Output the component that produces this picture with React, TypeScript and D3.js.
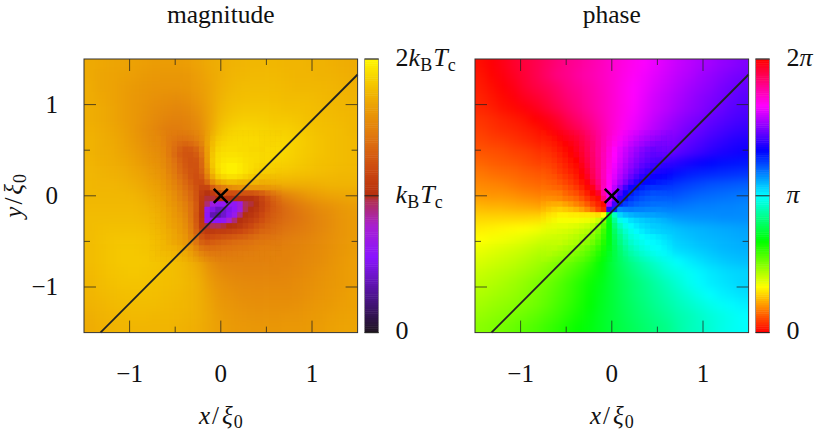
import React from "react";
import * as d3 from "d3";

// coarse grid: 25 x 25 cells over the whole panel, top row first
const magCoarse = [
  [170,169,168,167,166,165,164,164,164,165,167,170,172,174,175,176,176,176,175,175,174,174,173,172,171],
  [170,168,167,166,165,163,162,161,161,162,165,169,172,175,176,177,177,177,176,175,175,174,174,173,172],
  [171,168,167,165,163,161,160,160,160,161,164,168,173,176,178,178,178,178,177,176,176,176,175,174,173],
  [171,169,167,165,162,160,158,157,156,158,162,168,174,178,179,180,180,179,178,178,178,177,176,175,174],
  [172,170,168,165,162,159,156,154,152,154,159,167,176,180,182,182,182,181,180,180,179,178,177,176,175],
  [172,170,168,165,162,158,154,151,149,151,156,167,178,183,185,185,184,183,183,182,180,179,178,177,176],
  [173,171,169,166,162,157,152,147,146,149,153,168,182,187,189,188,187,186,186,184,182,180,179,178,176],
  [174,172,170,167,163,158,152,145,140,142,150,170,186,192,193,193,191,190,188,186,183,181,179,178,177],
  [174,172,171,168,165,160,154,146,136,132,146,172,190,196,197,196,194,191,188,185,183,181,179,178,177],
  [175,173,172,170,167,163,157,149,140,130,144,174,192,198,198,196,192,188,186,184,182,180,179,178,177],
  [175,174,173,172,169,166,160,153,145,132,135,168,186,192,192,188,184,182,181,180,179,178,177,176,176],
  [176,175,175,174,172,169,164,157,150,135,118,130,160,168,170,172,172,172,172,172,172,173,174,174,174],
  [176,176,176,176,175,172,168,163,155,140,118,105,105,115,120,125,135,142,150,156,162,165,167,168,169],
  [177,177,177,177,177,175,172,168,162,148,118,95,60,55,85,105,118,130,138,145,150,155,158,162,164],
  [178,178,178,178,178,177,175,172,168,155,125,90,50,60,95,110,122,132,138,142,147,152,156,160,163],
  [178,179,180,180,180,179,177,175,172,162,140,115,108,112,118,125,132,138,142,145,148,152,156,160,163],
  [178,180,181,182,182,181,180,178,175,168,155,138,132,133,135,138,142,145,147,149,151,154,157,160,163],
  [178,180,182,183,183,182,181,180,177,172,162,150,145,145,146,147,148,149,150,151,153,155,158,161,164],
  [178,180,182,183,183,183,182,180,178,174,167,156,150,149,149,149,149,150,150,152,154,156,159,162,165],
  [177,179,181,182,183,182,181,180,178,175,170,160,154,152,151,151,151,151,152,153,155,158,160,163,165],
  [176,178,180,181,181,181,180,179,178,176,172,164,158,155,154,153,153,153,153,155,157,159,161,163,165],
  [175,177,178,179,180,180,179,178,177,175,172,166,160,158,156,155,155,155,155,156,158,160,162,164,166],
  [174,175,177,178,178,178,178,177,176,175,172,167,162,160,158,157,157,157,157,158,160,162,163,165,166],
  [172,174,175,176,177,177,176,176,175,174,172,168,164,162,160,159,159,159,160,160,162,163,165,166,167],
  [171,173,174,175,175,175,175,175,174,173,171,168,165,163,162,161,161,161,162,162,163,164,166,167,168],
];

const phaseCoarse = [
  [3,359,355,350,346,342,337,332,327,324,320,316,311,307,303,299,295,291,287,284,281,278,275,273,270],
  [5,1,357,352,347,342,336,330,327,322,319,315,311,306,302,297,293,289,285,282,278,275,272,269,267],
  [6,3,359,355,349,344,340,335,329,325,321,316,311,305,300,296,291,287,283,279,276,273,269,266,264],
  [8,5,2,358,353,349,344,338,332,327,322,317,311,305,300,294,289,285,281,277,273,270,267,264,261],
  [9,7,4,2,358,354,348,342,335,329,323,317,311,305,299,293,288,284,279,275,272,268,265,261,259],
  [12,10,8,6,4,0,356,350,341,334,327,319,311,304,297,291,285,280,275,271,268,264,261,258,256],
  [14,12,10,9,7,5,1,355,347,340,331,321,311,303,295,288,282,277,272,267,264,260,257,254,252],
  [17,15,14,12,10,8,5,1,353,347,335,322,311,302,293,285,279,273,267,263,259,255,252,249,247],
  [20,19,18,16,15,13,10,7,2,355,338,322,310,300,290,282,275,269,262,258,254,250,247,245,243],
  [24,22,21,20,18,16,14,12,8,1,350,325,308,292,278,268,260,254,249,245,242,239,237,236,235],
  [28,26,25,24,22,21,19,17,13,7,2,335,305,275,262,252,246,241,237,234,232,231,230,229,228],
  [32,31,30,28,26,25,23,20,17,14,9,350,300,255,244,238,234,230,227,225,223,221,220,219,218],
  [36,35,35,34,32,31,29,26,23,18,12,5,300,245,235,229,225,222,220,218,216,215,214,213,212],
  [43,42,42,41,40,39,37,35,32,29,22,10,180,215,215,214,214,213,212,211,210,210,209,209,208],
  [50,50,50,50,50,51,51,52,53,54,55,60,130,180,190,196,200,202,204,205,206,206,207,207,207],
  [56,57,58,59,60,62,64,67,70,74,80,92,125,155,172,182,188,192,195,197,198,199,200,201,202],
  [60,62,63,65,67,70,73,77,82,89,100,117,138,151,165,175,184,189,192,194,196,197,198,199,200],
  [65,67,69,71,73,76,79,83,88,95,104,118,135,149,160,170,178,184,188,190,192,194,196,197,198],
  [69,71,73,75,78,81,84,89,94,100,108,120,134,145,154,162,169,175,180,184,187,190,192,194,195],
  [73,75,77,79,82,85,89,94,100,106,114,122,133,142,150,157,163,170,174,178,182,185,187,189,190],
  [76,78,80,83,86,90,94,99,105,111,118,125,133,140,146,152,158,164,170,176,181,184,186,188,190],
  [79,81,83,85,88,92,96,101,106,112,119,126,133,140,146,151,156,161,166,171,176,180,183,185,187],
  [82,84,86,88,91,94,98,103,108,114,120,127,133,139,144,149,154,158,163,167,171,175,178,181,183],
  [85,87,89,92,95,98,102,106,111,116,122,128,133,138,143,147,151,155,160,163,167,171,174,177,180],
  [88,90,93,96,99,102,106,110,115,119,123,128,133,137,141,145,149,152,158,163,166,170,174,177,179],
];

// fine grid: 24 x 24 cells around the vortex core
const magFine = [
  [160,157,155,151,148,146,145,146,150,155,166,176,182,184,185,185,185,185,185,185,184,184,184,183],
  [160,157,153,147,144,141,140,142,146,153,166,178,184,186,187,187,187,187,187,187,186,186,186,185],
  [161,157,152,146,141,136,133,135,140,149,166,179,186,188,189,189,189,188,188,188,187,187,186,186],
  [162,158,153,146,139,132,127,128,133,145,165,180,188,190,191,191,190,190,189,189,188,188,187,187],
  [163,159,154,146,138,130,126,125,129,141,164,182,190,192,193,193,192,191,190,190,189,188,188,187],
  [164,160,155,148,141,133,127,124,125,137,163,183,191,194,195,195,194,192,191,190,189,188,187,186],
  [165,161,156,149,143,135,128,124,124,135,160,182,192,196,198,198,196,193,191,189,187,186,185,185],
  [167,163,158,151,145,137,130,125,123,132,155,178,190,196,198,198,196,193,190,187,185,184,184,183],
  [168,164,159,153,147,140,133,126,122,127,148,170,184,189,192,192,190,187,184,182,180,179,178,178],
  [169,166,161,155,150,143,136,129,122,121,135,155,168,174,178,178,176,175,174,174,172,172,172,172],
  [170,167,163,157,152,146,139,132,124,115,115,130,142,148,155,158,160,160,160,160,160,160,160,160],
  [171,168,165,160,155,149,142,135,125,110,102,108,118,128,122,122,125,125,125,128,132,136,140,144],
  [172,169,166,162,157,151,145,137,126,108,98,98,100,100,100,100,100,100,100,105,115,122,128,132],
  [172,170,167,163,159,154,148,140,128,106,92,70,62,62,60,60,70,95,98,102,112,120,126,132],
  [173,171,168,165,161,156,150,141,128,105,62,50,40,42,50,58,72,97,100,105,113,122,128,132],
  [174,172,169,166,162,158,152,142,127,104,58,36,32,42,52,65,90,100,104,110,118,125,130,134],
  [175,172,170,167,164,160,154,144,128,106,60,55,55,60,78,92,100,105,110,116,122,128,132,136],
  [175,173,171,168,165,162,156,146,130,108,98,96,96,98,100,102,106,112,118,124,128,132,135,138],
  [176,174,172,170,167,163,158,148,133,115,108,108,110,110,112,115,118,122,126,130,134,136,138,140],
  [176,175,173,171,168,165,160,151,138,124,118,120,122,124,126,128,130,132,135,138,140,141,142,143],
  [177,175,174,172,169,166,162,154,143,132,128,130,132,134,136,138,139,140,141,143,144,145,145,145],
  [177,176,174,173,171,168,164,158,148,138,135,136,138,140,141,142,143,144,145,146,147,147,147,147],
  [178,176,175,174,172,169,166,160,151,143,140,140,142,143,144,145,146,147,147,148,148,148,149,149],
  [178,177,176,174,172,170,167,162,154,147,144,144,145,146,146,147,147,148,148,149,149,149,150,150],
];

const phaseFine = [
  [9,5,2,359,357,354,350,344,338,332,325,318,310,304,298,292,287,283,279,276,273,271,269,267],
  [11,7,4,1,358,355,351,345,339,333,326,318,310,303,297,291,286,281,277,274,271,269,267,265],
  [13,9,6,3,0,357,352,346,340,334,326,318,310,303,296,290,284,279,275,271,268,266,264,262],
  [15,11,8,5,2,359,354,348,341,334,326,318,309,301,294,288,282,277,272,268,265,263,261,259],
  [17,13,10,7,4,1,356,350,342,335,326,317,308,300,293,286,280,274,269,265,262,260,258,256],
  [19,15,12,9,6,3,0,352,344,336,327,317,307,299,291,284,277,271,266,262,259,256,254,252],
  [21,17,14,11,8,5,2,355,346,337,327,317,306,297,289,281,274,268,262,258,254,251,249,248],
  [23,19,16,13,10,7,4,358,349,339,328,316,305,295,286,278,270,263,257,252,248,246,245,244],
  [25,21,19,16,13,10,6,1,352,341,329,316,303,293,283,274,265,257,250,246,243,241,240,239],
  [28,24,22,19,16,13,9,4,357,345,331,316,302,290,279,268,257,248,242,238,236,234,233,232],
  [31,27,25,23,20,17,13,8,2,354,336,315,300,285,270,255,244,238,233,230,228,227,226,225],
  [35,32,30,28,24,21,18,13,7,1,350,320,295,275,258,243,234,229,226,224,222,221,220,219],
  [39,37,34,32,29,27,24,19,13,7,3,330,295,270,248,236,228,224,221,219,218,217,216,215],
  [47,45,43,41,38,35,31,27,21,14,8,2,285,255,232,225,221,218,216,215,214,213,212,211],
  [52,51,50,49,47,45,42,38,32,25,15,8,250,230,208,210,211,210,210,209,209,208,208,208],
  [58,58,57,57,57,56,56,55,55,54,52,60,130,165,190,195,198,200,201,202,202,203,203,204],
  [62,62,62,62,62,62,62,63,64,66,72,90,125,155,175,182,187,190,192,194,195,196,197,198],
  [65,65,65,66,66,67,68,70,72,76,85,100,122,148,165,175,181,185,188,190,192,193,194,195],
  [67,68,68,69,70,71,73,75,78,84,92,106,123,143,158,169,176,181,184,187,189,191,192,193],
  [69,70,71,72,73,75,77,80,83,89,97,109,123,140,153,164,172,176,179,182,183,185,186,187],
  [71,72,73,74,76,78,80,84,88,94,102,112,124,138,150,160,168,173,176,179,181,182,183,184],
  [73,74,75,77,79,81,84,88,92,98,105,114,124,136,147,157,165,170,174,177,179,180,181,182],
  [75,76,78,79,81,84,87,91,95,101,108,116,125,135,145,154,162,167,171,174,176,178,179,180],
  [77,78,80,82,84,86,90,93,98,103,110,117,125,134,143,151,159,164,168,171,173,175,177,178],
];

const fineLeft = -0.78;
const fineTop = 0.72;
const cellStep = 0.06;

// colour bar stops, magnitude in units of k_B T_c / 100
const magStops = [0, 25, 55, 78, 97, 100, 120, 140, 164, 180, 200];
const magColors = ["#1e1420", "#4a1488", "#8a15ff", "#a820d0", "#b03050", "#b5300f", "#cc4a10", "#dd7010", "#eb9c05", "#f3c000", "#fff500"];

const majorTicks = [-1, 0, 1];
const minorTicks = [-0.5, 0.5];
const xLine = [-1.32, 1.5];
const yLine = [-1.5, 1.33];

const size = 273.6;
const panelTop = 59;
const magLeft = 84;
const phaseLeft = 475;
const barGap = 7;
const barWidth = 14;

const x = d3.scaleLinear().domain([-1.5, 1.5]).range([0, size]);
const y = d3.scaleLinear().domain([-1.5, 1.5]).range([size, 0]);
const magColor = d3.scaleLinear<string>().domain(magStops).range(magColors).interpolate(d3.interpolateRgb);
const phaseColor = (h: number) => d3.hsl(h, 1, 0.5).toString();
const barLevels = d3.range(0, 128);
const serif = "'Liberation Serif', serif";

function Kbt({ two }: { two?: boolean }) {
  return (
    <>
      {two && <tspan>2</tspan>}
      <tspan fontStyle="italic">k</tspan>
      <tspan fontSize={18} dy={5}>B</tspan>
      <tspan fontStyle="italic" dy={-5} dx={1}>T</tspan>
      <tspan fontSize={18} dy={5}>c</tspan>
    </>
  );
}

function Ratio({ name }: { name: string }) {
  return (
    <>
      <tspan fontStyle="italic">{name}</tspan>
      <tspan dx={2}>/</tspan>
      <tspan fontStyle="italic" dx={3}>ξ</tspan>
      <tspan fontSize={18} dy={4} dx={1}>0</tspan>
    </>
  );
}

function Panel({ id, left, title, coarse, fine, color, showY, barT, barLabels }: any) {
  const coarseW = size / 25;
  const line = d3.line<number>().x((d) => x(d)).y((_, i) => y(yLine[i]));
  const edge = fine.length - 1;
  return (
    <g transform={`translate(${left},${panelTop})`}>
      <defs>
        <clipPath id={`${id}-clip`}>
          <rect width={size} height={size} />
        </clipPath>
        <filter id={`${id}-soft`} filterUnits="userSpaceOnUse" x={-40} y={-40} width={size + 80} height={size + 80} colorInterpolationFilters="sRGB">
          <feGaussianBlur stdDeviation={4.5} />
        </filter>
      </defs>
      <g clipPath={`url(#${id}-clip)`}>
        <g filter={`url(#${id}-soft)`}>
          {coarse.map((row: number[], i: number) =>
            row.map((v, j) => {
              // border cells run past the frame so the soft edge stays outside it
              const x0 = j === 0 ? -30 : j * coarseW;
              const x1 = j === 24 ? size + 30 : (j + 1) * coarseW + 0.5;
              const y0 = i === 0 ? -30 : i * coarseW;
              const y1 = i === 24 ? size + 30 : (i + 1) * coarseW + 0.5;
              return <rect key={`${i}-${j}`} x={x0} y={y0} width={x1 - x0} height={y1 - y0} fill={color(v)} />;
            })
          )}
        </g>
        {fine.map((row: number[], i: number) =>
          row.map((v, j) => {
            // outer rings of the fine grid fade into the coarse one
            const d = Math.min(i, j, edge - i, edge - j);
            return (
              <rect
                key={`f${i}-${j}`}
                x={x(fineLeft + j * cellStep)}
                y={y(fineTop - i * cellStep)}
                width={x(cellStep) - x(0) + 0.4}
                height={y(0) - y(cellStep) + 0.4}
                fill={color(v)}
                fillOpacity={d === 0 ? 0.25 : d === 1 ? 0.5 : d === 2 ? 0.75 : 1}
              />
            );
          })
        )}
      </g>
      <path d={line(xLine) ?? ""} fill="none" stroke="#222" strokeWidth={1.8} />
      <path d="M-7,-7L7,7M-7,7L7,-7" transform={`translate(${x(0)},${y(0)})`} stroke="#000" strokeWidth={2.6} fill="none" />
      {majorTicks.map((t) => (
        <g key={t} stroke="#222" strokeOpacity={0.75}>
          <line x1={x(t)} x2={x(t)} y1={0} y2={12} />
          <line x1={x(t)} x2={x(t)} y1={size} y2={size - 12} />
          <line y1={y(t)} y2={y(t)} x1={0} x2={12} />
          <line y1={y(t)} y2={y(t)} x1={size} x2={size - 12} />
        </g>
      ))}
      {minorTicks.map((t) => (
        <g key={t} stroke="#222" strokeOpacity={0.75}>
          <line x1={x(t)} x2={x(t)} y1={0} y2={6} />
          <line x1={x(t)} x2={x(t)} y1={size} y2={size - 6} />
          <line y1={y(t)} y2={y(t)} x1={0} x2={6} />
          <line y1={y(t)} y2={y(t)} x1={size} x2={size - 6} />
        </g>
      ))}
      <rect width={size} height={size} fill="none" stroke="#333" strokeWidth={1} />

      <g fontFamily={serif} fill="#111" fontSize={25} textAnchor="middle">
        <text x={size / 2} y={-36} fontSize={25.5}>{title}</text>
        {majorTicks.map((t) => (
          <text key={t} x={x(t)} y={size + 49}>{t < 0 ? `−${-t}` : t}</text>
        ))}
        <text x={size / 2} y={size + 91}><Ratio name="x" /></text>
        {showY && majorTicks.map((t) => (
          <text key={t} x={-26} y={y(t) + 8} textAnchor="end">{t < 0 ? `−${-t}` : t}</text>
        ))}
        {showY && (
          <text transform={`translate(-62,${size / 2}) rotate(-90)`}><Ratio name="y" /></text>
        )}
      </g>

      <g transform={`translate(${size + barGap},0)`}>
        {barLevels.map((l) => {
          const h = size / barLevels.length;
          return <rect key={l} x={0} y={size - (l + 1) * h} width={barWidth} height={h + 0.5} fill={barT(l / (barLevels.length - 1))} />;
        })}
        <rect width={barWidth} height={size} fill="none" stroke="#888" strokeWidth={0.8} />
        <line x1={0} x2={barWidth} y1={0} y2={0} stroke="#222" />
        <line x1={0} x2={barWidth} y1={size} y2={size} stroke="#222" />
        <line x1={0} x2={barWidth} y1={size / 2} y2={size / 2} stroke="#222" />
        {barLabels}
      </g>
    </g>
  );
}

export default function App() {
  const labelX = barWidth + 17;
  return (
    <svg width={830} height={432} style={{ position: "absolute", left: 0, top: 0, background: "#fff" }}>
      <Panel
        id="mag"
        left={magLeft}
        title="magnitude"
        coarse={magCoarse}
        fine={magFine}
        color={(v: number) => magColor(v)}
        showY
        barT={(t: number) => magColor(t * 200)}
        barLabels={
          <g fontFamily={serif} fontSize={26} fill="#111">
            <text x={labelX} y={7}><Kbt two /></text>
            <text x={labelX} y={size / 2 + 7}><Kbt /></text>
            <text x={labelX} y={size + 6}>0</text>
          </g>
        }
      />
      <Panel
        id="phase"
        left={phaseLeft}
        title="phase"
        coarse={phaseCoarse}
        fine={phaseFine}
        color={phaseColor}
        barT={(t: number) => phaseColor(t * 360)}
        barLabels={
          <g fontFamily={serif} fontSize={26} fill="#111">
            <text x={labelX} y={7}>2<tspan fontStyle="italic">π</tspan></text>
            <text x={labelX} y={size / 2 + 7} fontStyle="italic">π</text>
            <text x={labelX} y={size + 6}>0</text>
          </g>
        }
      />
    </svg>
  );
}
